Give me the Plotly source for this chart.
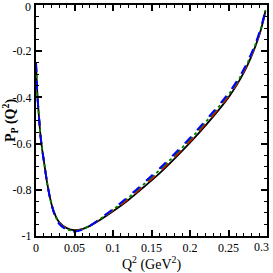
import plotly.graph_objects as go

q2 = [0, 0.001, 0.002, 0.004, 0.006, 0.008, 0.01, 0.015, 0.02, 0.025, 0.03, 0.04,
      0.05, 0.06, 0.07, 0.08, 0.1, 0.12, 0.14, 0.16, 0.18, 0.2, 0.22, 0.24, 0.25,
      0.26, 0.27, 0.28, 0.285, 0.29, 0.295, 0.298]
p_black = [-0.25, -0.33, -0.40, -0.49, -0.57, -0.625, -0.67, -0.78, -0.86, -0.91, -0.94, -0.966,
           -0.975, -0.97, -0.956, -0.937, -0.893, -0.844, -0.788, -0.73, -0.665, -0.596, -0.522, -0.443, -0.40,
           -0.35, -0.292, -0.22, -0.178, -0.13, -0.07, -0.025]
p_red = [-0.25, -0.33, -0.40, -0.49, -0.57, -0.625, -0.67, -0.78, -0.86, -0.911, -0.942, -0.968,
         -0.977, -0.971, -0.955, -0.935, -0.889, -0.839, -0.782, -0.723, -0.658, -0.589, -0.515, -0.437, -0.394,
         -0.345, -0.287, -0.216, -0.175, -0.127, -0.068, -0.023]
p_green = [-0.25, -0.33, -0.40, -0.49, -0.57, -0.625, -0.67, -0.78, -0.86, -0.912, -0.944, -0.97,
           -0.978, -0.971, -0.955, -0.934, -0.886, -0.834, -0.776, -0.716, -0.651, -0.582, -0.508, -0.43, -0.388,
           -0.34, -0.282, -0.212, -0.171, -0.124, -0.066, -0.022]
p_blue = [-0.25, -0.33, -0.40, -0.49, -0.57, -0.625, -0.67, -0.78, -0.862, -0.915, -0.947, -0.973,
          -0.981, -0.973, -0.956, -0.933, -0.883, -0.829, -0.77, -0.709, -0.644, -0.575, -0.501, -0.424, -0.382,
          -0.334, -0.277, -0.207, -0.167, -0.12, -0.063, -0.02]

x_ticks = [0, 0.05, 0.1, 0.15, 0.2, 0.25, 0.3]
x_labels = ["0", "0.05", "0.1", "0.15", "0.2", "0.25", ""]
y_ticks = [0, -0.2, -0.4, -0.6, -0.8, -1]
y_labels = ["", "-0.2", "-0.4", "-0.6", "-0.8", "-1"]
end_x_label = "0.3"
end_y_label = "0"

fig = go.Figure()
fig.add_trace(go.Scatter(x=q2, y=p_black, mode="lines", line=dict(color="black", width=1.8, shape="spline")))
fig.add_trace(go.Scatter(x=q2, y=p_red, mode="lines", line=dict(color="red", width=1.8, dash="dash", shape="spline")))
fig.add_trace(go.Scatter(x=q2, y=p_green, mode="lines", line=dict(color="green", width=1.8, dash="dashdot", shape="spline")))
fig.add_trace(go.Scatter(x=q2, y=p_blue, mode="lines", line=dict(color="blue", width=2, dash="dash", shape="spline")))

font = "Liberation Serif, Times New Roman, serif"
axis_common = dict(showgrid=False, zeroline=False, showline=True, linecolor="black", linewidth=2,
                   mirror="ticks", ticks="inside", ticklen=6, tickwidth=1.5, tickcolor="black",
                   automargin=False,
                   tickfont=dict(family=font, size=12, color="black"))
fig.update_xaxes(range=[0, 0.3], tickvals=x_ticks, ticktext=x_labels,
                 minor=dict(dtick=0.01, tick0=0, ticks="inside", ticklen=3, tickcolor="black", tickwidth=1.2),
                 title=dict(text="Q<sup>2</sup> (GeV<sup>2</sup>)", font=dict(family=font, size=14, color="black"), standoff=2),
                 **axis_common)
fig.update_yaxes(range=[-1, 0], tickvals=y_ticks, ticktext=y_labels,
                 minor=dict(dtick=0.05, tick0=0, ticks="inside", ticklen=3, tickcolor="black", tickwidth=1.2),
                 title=dict(text="<b>P<sub>P</sub> (Q<sup>2</sup>)</b>", font=dict(family=font, size=14, color="black"), standoff=1),
                 **axis_common)
fig.add_annotation(text=end_y_label, xref="paper", x=0, xanchor="right", xshift=-3,
                   yref="y", y=y_ticks[0], yanchor="middle", yshift=-2, showarrow=False,
                   font=dict(family=font, size=12, color="black"))
fig.add_annotation(text=end_x_label, xref="x", x=x_ticks[-1], xanchor="right", xshift=4,
                   yref="paper", y=0, yanchor="top", yshift=-2, showarrow=False,
                   font=dict(family=font, size=12, color="black"))
fig.update_layout(template="none", width=273, height=273, margin=dict(l=36, r=6, t=5, b=37),
                  plot_bgcolor="white", paper_bgcolor="white", showlegend=False)
fig.write_html("out.html", config={"displayModeBar": False},
               post_script="document.body.style.margin='0px';document.body.style.overflow='hidden';")
